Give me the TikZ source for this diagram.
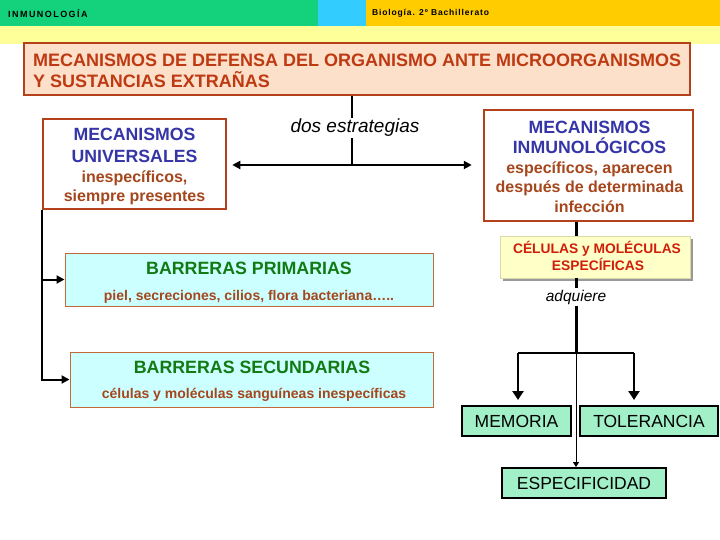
\documentclass[tikz,border=0pt]{standalone}
\usepackage{fontspec}
\setmainfont{Liberation Sans}
\usetikzlibrary{arrows.meta,shadows}
\definecolor{hdrgreen}{HTML}{14D27C}
\definecolor{hdrblue}{HTML}{33CCFF}
\definecolor{hdrgold}{HTML}{FFCC00}
\definecolor{hdryellow}{HTML}{FFFF99}
\definecolor{titlefill}{HTML}{FDE0CA}
\definecolor{redborder}{HTML}{B5401C}
\definecolor{titletext}{HTML}{BE3A12}
\definecolor{bluetxt}{HTML}{3535A8}
\definecolor{browntxt}{HTML}{A5461C}
\definecolor{celfill}{HTML}{FFFFC8}
\definecolor{celtext}{HTML}{D01E0A}
\definecolor{barrfill}{HTML}{CCFFFF}
\definecolor{barrborder}{HTML}{C06A3A}
\definecolor{greentxt}{HTML}{127A12}
\definecolor{aquafill}{HTML}{A2F0C8}
\tikzset{
  txt/.style={inner sep=0pt, anchor=base},
  hdrtext/.style={txt, anchor=base west, font=\fontsize{9}{10}\selectfont\bfseries\addfontfeature{LetterSpace=16}},
  titletxt/.style={txt, anchor=base west, text=titletext, font=\fontsize{18}{20}\selectfont\bfseries},
  bigblue/.style={txt, text=bluetxt, font=\fontsize{17.7}{20}\selectfont\bfseries},
  brownmid/.style={txt, text=browntxt, font=\fontsize{16}{18}\selectfont\bfseries},
  brownsmall/.style={txt, text=browntxt, font=\fontsize{14}{16}\selectfont\bfseries},
  greenbig/.style={txt, text=greentxt, font=\fontsize{17.8}{20}\selectfont\bfseries},
  celtxt/.style={txt, text=celtext, font=\fontsize{13.8}{16}\selectfont\bfseries},
  itlabel/.style={inner sep=1.5pt, fill=white, font=\fontsize{19}{20}\selectfont\itshape},
  redbox/.style={draw=redborder, line width=2.5pt, fill=white, inner sep=0pt},
  barrbox/.style={draw=barrborder, line width=1pt, fill=barrfill, inner sep=0pt},
  aquabox/.style={draw=black, line width=2pt, fill=aquafill, inner sep=0pt, font=\fontsize{17.5}{20}\selectfont},
  conn/.style={line width=2pt, draw=black},
  tip/.style={-{Triangle[length=8pt,width=8pt]}},
}
\begin{document}
\begin{tikzpicture}[x=1pt,y=-1pt]
\useasboundingbox (0,0) rectangle (720,540);
% header
\fill[hdrgreen] (0,0) rectangle (318,26);
\fill[hdrblue] (318,0) rectangle (366,26);
\fill[hdrgold] (366,0) rectangle (720,26);
\fill[hdryellow] (0,26) rectangle (720,44);
\node[hdrtext] (hdrL) at (8,18) {INMUNOLOGÍA};
\node[hdrtext, font=\fontsize{8.5}{10}\selectfont\bfseries\addfontfeature{LetterSpace=10}] (hdrR) at (372,16) {Biología. 2º Bachillerato};
% title
\node[draw=redborder, line width=2.5pt, fill=titlefill, minimum width=666pt, minimum height=52pt, inner sep=0pt] (title) at (357,69) {};
\node[titletxt] (t1) at (33,67) {MECANISMOS DE DEFENSA DEL ORGANISMO ANTE MICROORGANISMOS};
\node[titletxt] (t2) at (33,88) {Y SUSTANCIAS EXTRAÑAS};
% strategy boxes
\node[redbox, minimum width=183pt, minimum height=90pt] (univ) at (134.5,164) {};
\node[bigblue] (u1) at (134.5,140.3) {MECANISMOS};
\node[bigblue] (u2) at (134.5,162.3) {UNIVERSALES};
\node[brownmid] (u3) at (134.5,183) {inespecíficos,};
\node[brownmid] (u4) at (134.5,201.5) {siempre presentes};
\node[redbox, minimum width=209pt, minimum height=111pt] (inmu) at (588.5,165.5) {};
\node[bigblue] (i1) at (589.5,133.3) {MECANISMOS};
\node[bigblue] (i2) at (589.5,153.3) {INMUNOLÓGICOS};
\node[brownmid] (i3) at (589.5,173.5) {específicos, aparecen};
\node[brownmid] (i4) at (589.5,192.5) {después de determinada};
\node[brownmid] (i5) at (589.5,212) {infección};
% strategies connector
\coordinate (mid) at (352,165);
\draw[line width=1.5pt] (title.south -| mid) -- (mid);
\node[itlabel] (dos) at (355,128) {dos estrategias};
\draw[conn, {Triangle[length=8pt,width=8pt]}-{Triangle[length=8pt,width=8pt]}] ([xshift=5pt]univ.east |- mid) -- ([xshift=-11pt]inmu.west |- mid);
% barriers
\node[barrbox, minimum width=368pt, minimum height=53pt] (prim) at (249,279.5) {};
\node[greenbig] (p1) at (249,274.5) {BARRERAS PRIMARIAS};
\node[brownsmall] (p2) at (249,300.5) {piel, secreciones, cilios, flora bacteriana…..};
\node[barrbox, minimum width=363pt, minimum height=55pt] (sec) at (251.5,379.5) {};
\node[greenbig] (s1) at (252,373.5) {BARRERAS SECUNDARIAS};
\node[brownsmall] (s2) at (254,398.5) {células y moléculas sanguíneas inespecíficas};
\coordinate (lb) at (42,378);
\draw[conn, tip] (univ.south -| lb) |- (sec.west);
\draw[conn, tip] (lb |- prim.west) -- (prim.west);
% specific branch
\node[fill=celfill, draw=celfill!85!black, line width=0.4pt, minimum width=190pt, minimum height=42pt, inner sep=0pt,
  drop shadow={shadow xshift=3pt, shadow yshift=-3pt, fill=black!40, opacity=1}] (cel) at (595,257) {};
\node[celtxt] (c1) at (597,253) {CÉLULAS y MOLÉCULAS};
\node[celtxt] (c2) at (598,270) {ESPECÍFICAS};
\coordinate (spine) at (576,353);
\draw[line width=3pt] (inmu.south -| spine) -- (cel.north -| spine);
\draw[line width=3pt] (cel.south -| spine) -- (spine);
\node[inner sep=2pt, fill=white, font=\fontsize{15.5}{18}\selectfont\itshape] (adq) at (576,297) {adquiere};
\node[aquabox, minimum width=109pt, minimum height=30pt] (mem) at (516.5,421) {MEMORIA};
\node[aquabox, minimum width=138pt, minimum height=30pt] (tol) at (649,421) {TOLERANCIA};
\node[aquabox, minimum width=164pt, minimum height=30pt] (spec) at (584,483) {ESPECIFICIDAD};
\coordinate (bl) at (518,353);
\coordinate (br) at (634,353);
\draw[line width=2.5pt] (bl) -- (br);
\draw[line width=2.5pt, -{Triangle[length=9pt,width=11pt]}, shorten >=5pt] (bl) -- (bl |- mem.north);
\draw[line width=2.5pt, -{Triangle[length=9pt,width=11pt]}, shorten >=5pt] (br) -- (br |- tol.north);
\draw[line width=1pt, -{Triangle[length=5pt,width=6pt]}] (spine) -- (spine |- spec.north);
\end{tikzpicture}
\end{document}
